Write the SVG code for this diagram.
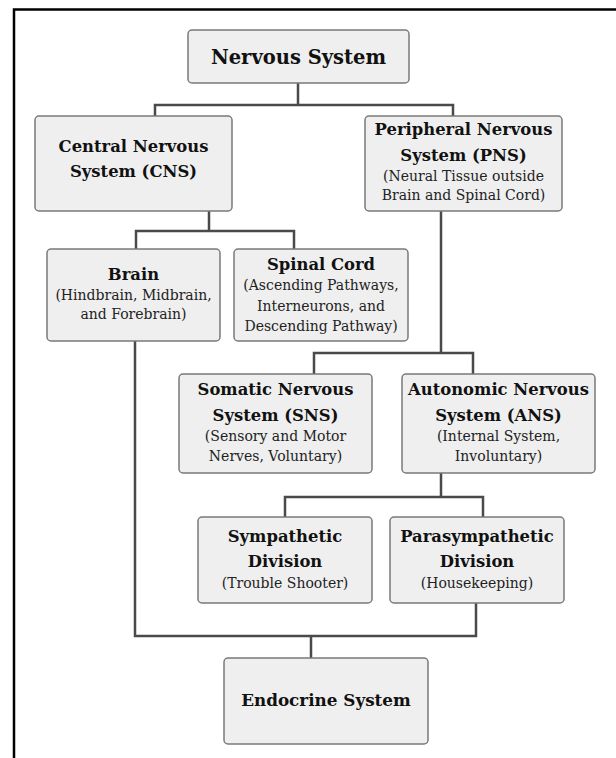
<svg xmlns="http://www.w3.org/2000/svg" width="616" height="758" viewBox="0 0 616 758">
<style>
.box{fill:#efefef;stroke:#7a7a7a;stroke-width:1.5}
.t{font-family:"DejaVu Serif",serif;font-weight:bold;font-size:16.4px;fill:#111;text-anchor:middle}
.s{font-family:"DejaVu Serif",serif;font-size:14px;fill:#222;text-anchor:middle}
.c{fill:none;stroke:#4a4a4a;stroke-width:2.5}
</style>
<rect width="616" height="758" fill="#fff"/>
<path d="M14 758 V9.5 H616" fill="none" stroke="#000" stroke-width="2.5"/>
<g id="connectors" class="c">
<path d="M298 83 V105 M155 116 V105 H453 V116"/>
<path d="M209 211 V231 M136 249 V231 H294 V249"/>
<path d="M441 211 V353 M314 374 V353 H473 V374"/>
<path d="M441 473 V497 M285 517 V497 H483 V517"/>
<path d="M135 341 V636 H476 V603 M311 636 V658"/>
</g>
<g id="nervous-system"><rect class="box" x="188" y="30" width="221" height="53" rx="4"/><text class="t" x="298.5" y="64" style="font-size:19.5px">Nervous System</text></g>
<g id="cns"><rect class="box" x="35" y="116" width="197" height="95" rx="4"/><text class="t" x="133.5" y="152">Central Nervous</text><text class="t" x="133.5" y="177">System (CNS)</text></g>
<g id="pns"><rect class="box" x="365" y="116" width="197" height="95" rx="4"/><text class="t" x="463.5" y="135">Peripheral Nervous</text><text class="t" x="463.5" y="161">System (PNS)</text><text class="s" x="463.5" y="181">(Neural Tissue outside</text><text class="s" x="463.5" y="200">Brain and Spinal Cord)</text></g>
<g id="brain"><rect class="box" x="47" y="249" width="173" height="92" rx="4"/><text class="t" x="133.5" y="280">Brain</text><text class="s" x="133.5" y="300">(Hindbrain, Midbrain,</text><text class="s" x="133.5" y="319">and Forebrain)</text></g>
<g id="spinal-cord"><rect class="box" x="234" y="249" width="174" height="92" rx="4"/><text class="t" x="321" y="270">Spinal Cord</text><text class="s" x="321" y="290">(Ascending Pathways,</text><text class="s" x="321" y="311">Interneurons, and</text><text class="s" x="321" y="331">Descending Pathway)</text></g>
<g id="sns"><rect class="box" x="179" y="374" width="193" height="99" rx="4"/><text class="t" x="275.5" y="395">Somatic Nervous</text><text class="t" x="275.5" y="421">System (SNS)</text><text class="s" x="275.5" y="441">(Sensory and Motor</text><text class="s" x="275.5" y="461">Nerves, Voluntary)</text></g>
<g id="ans"><rect class="box" x="402" y="374" width="193" height="99" rx="4"/><text class="t" x="498.5" y="395">Autonomic Nervous</text><text class="t" x="498.5" y="421">System (ANS)</text><text class="s" x="498.5" y="441">(Internal System,</text><text class="s" x="498.5" y="461">Involuntary)</text></g>
<g id="sympathetic"><rect class="box" x="198" y="517" width="174" height="86" rx="4"/><text class="t" x="285" y="542">Sympathetic</text><text class="t" x="285" y="567">Division</text><text class="s" x="285" y="588">(Trouble Shooter)</text></g>
<g id="parasympathetic"><rect class="box" x="390" y="517" width="174" height="86" rx="4"/><text class="t" x="477" y="542">Parasympathetic</text><text class="t" x="477" y="567">Division</text><text class="s" x="477" y="588">(Housekeeping)</text></g>
<g id="endocrine"><rect class="box" x="224" y="658" width="204" height="86" rx="4"/><text class="t" x="326" y="706" style="font-size:16.8px">Endocrine System</text></g>
</svg>
